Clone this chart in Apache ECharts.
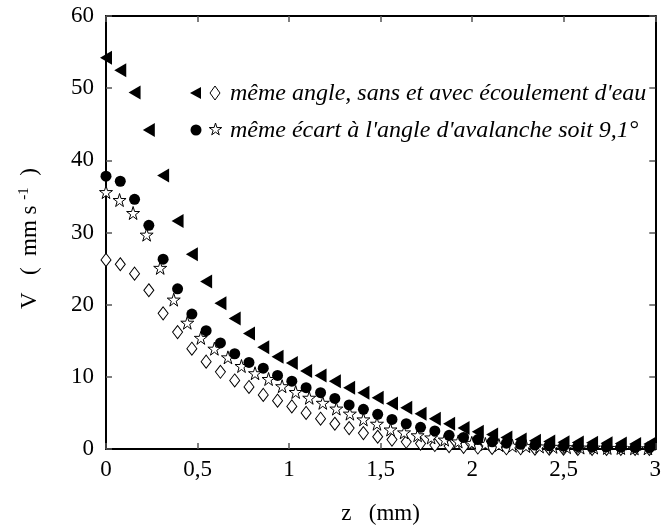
<!DOCTYPE html>
<html><head><meta charset="utf-8">
<script src="https://cdn.jsdelivr.net/npm/echarts@6/dist/echarts.min.js"></script>
<style>html,body{margin:0;padding:0;background:#fff}#c{width:664px;height:530px}</style>
</head><body><div id="c"></div>
<script>
// z positions (mm) for triangle / circle / diamond series
var zA = [0,0.078,0.156,0.234,0.312,0.391,0.469,0.547,0.625,0.703,0.781,0.859,0.937,1.015,1.093,1.172,1.250,1.328,1.406,1.484,1.562,1.640,1.718,1.796,1.874,1.953,2.031,2.109,2.187,2.265,2.343,2.421,2.499,2.577,2.655,2.734,2.812,2.890,2.968];
// z positions (mm) for star series
var zS = [0,0.074,0.148,0.222,0.296,0.37,0.444,0.518,0.592,0.666,0.74,0.814,0.888,0.962,1.036,1.11,1.184,1.258,1.332,1.406,1.48,1.554,1.628,1.702,1.776,1.85,1.924,1.998,2.072,2.146,2.22,2.294,2.368,2.442,2.516,2.59,2.664,2.738,2.812,2.886,2.96];
// V (mm s-1)
var vTriangle = [54.2,52.5,49.4,44.2,37.9,31.6,27.0,23.2,20.2,18.1,16.0,14.1,12.8,11.9,10.8,10.2,9.4,8.5,7.8,7.1,6.3,5.7,4.9,4.2,3.5,2.9,2.4,2.0,1.6,1.3,1.15,1.05,0.95,0.9,0.85,0.8,0.75,0.7,0.7];
var vDiamond = [26.2,25.6,24.3,22.0,18.8,16.2,13.9,12.1,10.7,9.5,8.6,7.5,6.7,5.9,5.0,4.2,3.5,2.9,2.2,1.7,1.3,1.0,0.75,0.55,0.4,0.3,0.2,0.15,0.1,0.1,0.05,0.05,0.05,0,0,0,0,0,0];
var vCircle = [37.8,37.1,34.6,31.0,26.3,22.2,18.7,16.4,14.7,13.2,12.0,11.2,10.2,9.4,8.5,7.8,7.0,6.1,5.5,4.8,4.1,3.5,3.0,2.5,1.9,1.6,1.3,1.0,0.8,0.65,0.55,0.45,0.4,0.35,0.3,0.3,0.25,0.2,0.2];
var vStar = [35.6,34.5,32.7,29.7,25.1,20.7,17.5,15.4,13.9,12.7,11.5,10.5,9.7,8.7,7.9,7.1,6.4,5.6,4.9,4.1,3.5,2.7,2.3,1.9,1.6,1.3,1.05,0.85,0.7,0.55,0.45,0.4,0.35,0.3,0.25,0.2,0.2,0.15,0.15,0.1,0.1];
var legendText1 = "même angle, sans et avec écoulement d'eau";
var legendText2 = "même écart à l'angle d'avalanche soit 9,1°";
var xName = "z   (mm)";

function pairs(xs, ys){ return ys.map(function(v,i){ return [xs[i], v]; }); }

var TRI = 'path://M0,50 L100,0 L100,100 Z';
var STAR = 'path://M50,0 L61,35 L98,35 L68,57 L79,91 L50,70 L21,91 L32,57 L2,35 L39,35 Z';
var FONT = 'Liberation Serif';

function starPts(x0, y0, s){
  var p = [[50,0],[61,35],[98,35],[68,57],[79,91],[50,70],[21,91],[32,57],[2,35],[39,35]];
  return p.map(function(q){ return [x0 + q[0]*s/100, y0 + q[1]*s/100]; });
}

var chart = echarts.init(document.getElementById('c'), null, {renderer:'canvas'});
var axisLine = {show:true, onZero:false, lineStyle:{color:'#000', width:2}};
var tick = {show:true, inside:true, length:6, lineStyle:{color:'#555', width:1.5}};
chart.setOption({
  animation:false,
  backgroundColor:'#fff',
  grid:{left:106, right:4, top:16, bottom:74, containLabel:false},
  xAxis:[{
    type:'value', min:0, max:3, interval:0.5, position:'bottom',
    axisLine:axisLine, axisTick:tick, splitLine:{show:false},
    axisLabel:{color:'#000', fontFamily:FONT, fontSize:23, margin:9,
      formatter:function(v){ return String(v).replace('.', ','); }},
    name:xName, nameLocation:'middle', nameGap:53,
    nameTextStyle:{color:'#000', fontFamily:FONT, fontSize:23}
  },{
    type:'value', min:0, max:3, interval:0.5, position:'top',
    axisLine:axisLine, axisTick:tick, axisLabel:{show:false}, splitLine:{show:false}
  }],
  yAxis:[{
    type:'value', min:0, max:60, interval:10, position:'left',
    axisLine:axisLine, axisTick:tick, splitLine:{show:false},
    axisLabel:{color:'#000', fontFamily:FONT, fontSize:23, margin:12},
    name:'{a|V   (  mm s }{s|-1}{e|  )}', nameLocation:'middle', nameGap:64, nameRotate:90,
    nameTextStyle:{color:'#000', fontFamily:FONT, fontSize:23,
      rich:{a:{fontFamily:FONT, fontSize:23, color:'#000'},
            e:{fontFamily:FONT, fontSize:23, color:'#000', padding:[0,12,0,0]},
            s:{fontFamily:FONT, fontSize:15, color:'#000', verticalAlign:'top', padding:[0,0,10,0]}}}
  },{
    type:'value', min:0, max:60, interval:10, position:'right',
    axisLine:axisLine, axisTick:tick, axisLabel:{show:false}, splitLine:{show:false}
  }],
  series:[
    {type:'scatter', name:'diamond', data:pairs(zA, vDiamond), symbol:'diamond', symbolSize:[10,13],
      itemStyle:{color:'#fff', borderColor:'#000', borderWidth:1, opacity:1}, z:2},
    {type:'scatter', name:'star', data:pairs(zS, vStar), symbol:STAR, symbolSize:[13,13],
      itemStyle:{color:'#fff', borderColor:'#000', borderWidth:1, opacity:1}, z:3},
    {type:'scatter', name:'circle', data:pairs(zA, vCircle), symbol:'circle', symbolSize:11,
      itemStyle:{color:'#000', opacity:1}, z:4},
    {type:'scatter', name:'triangle', data:pairs(zA, vTriangle), symbol:TRI, symbolSize:[12,14],
      itemStyle:{color:'#000', opacity:1}, z:5}
  ],
  graphic:[
    {type:'polygon', shape:{points:[[190,93],[201,87],[201,99]]}, style:{fill:'#000'}},
    {type:'polygon', shape:{points:[[215,86],[220,93],[215,100],[210,93]]}, style:{fill:'#fff', stroke:'#000', lineWidth:1}},
    {type:'text', left:230, top:82, style:{text:legendText1, fill:'#000', font:'italic 24px "Liberation Serif"'}},
    {type:'circle', shape:{cx:196, cy:130, r:5.5}, style:{fill:'#000'}},
    {type:'polygon', shape:{points:starPts(209, 123, 13)}, style:{fill:'#fff', stroke:'#000', lineWidth:1}},
    {type:'text', left:230, top:119, style:{text:legendText2, fill:'#000', font:'italic 24px "Liberation Serif"'}}
  ]
});
</script></body></html>
